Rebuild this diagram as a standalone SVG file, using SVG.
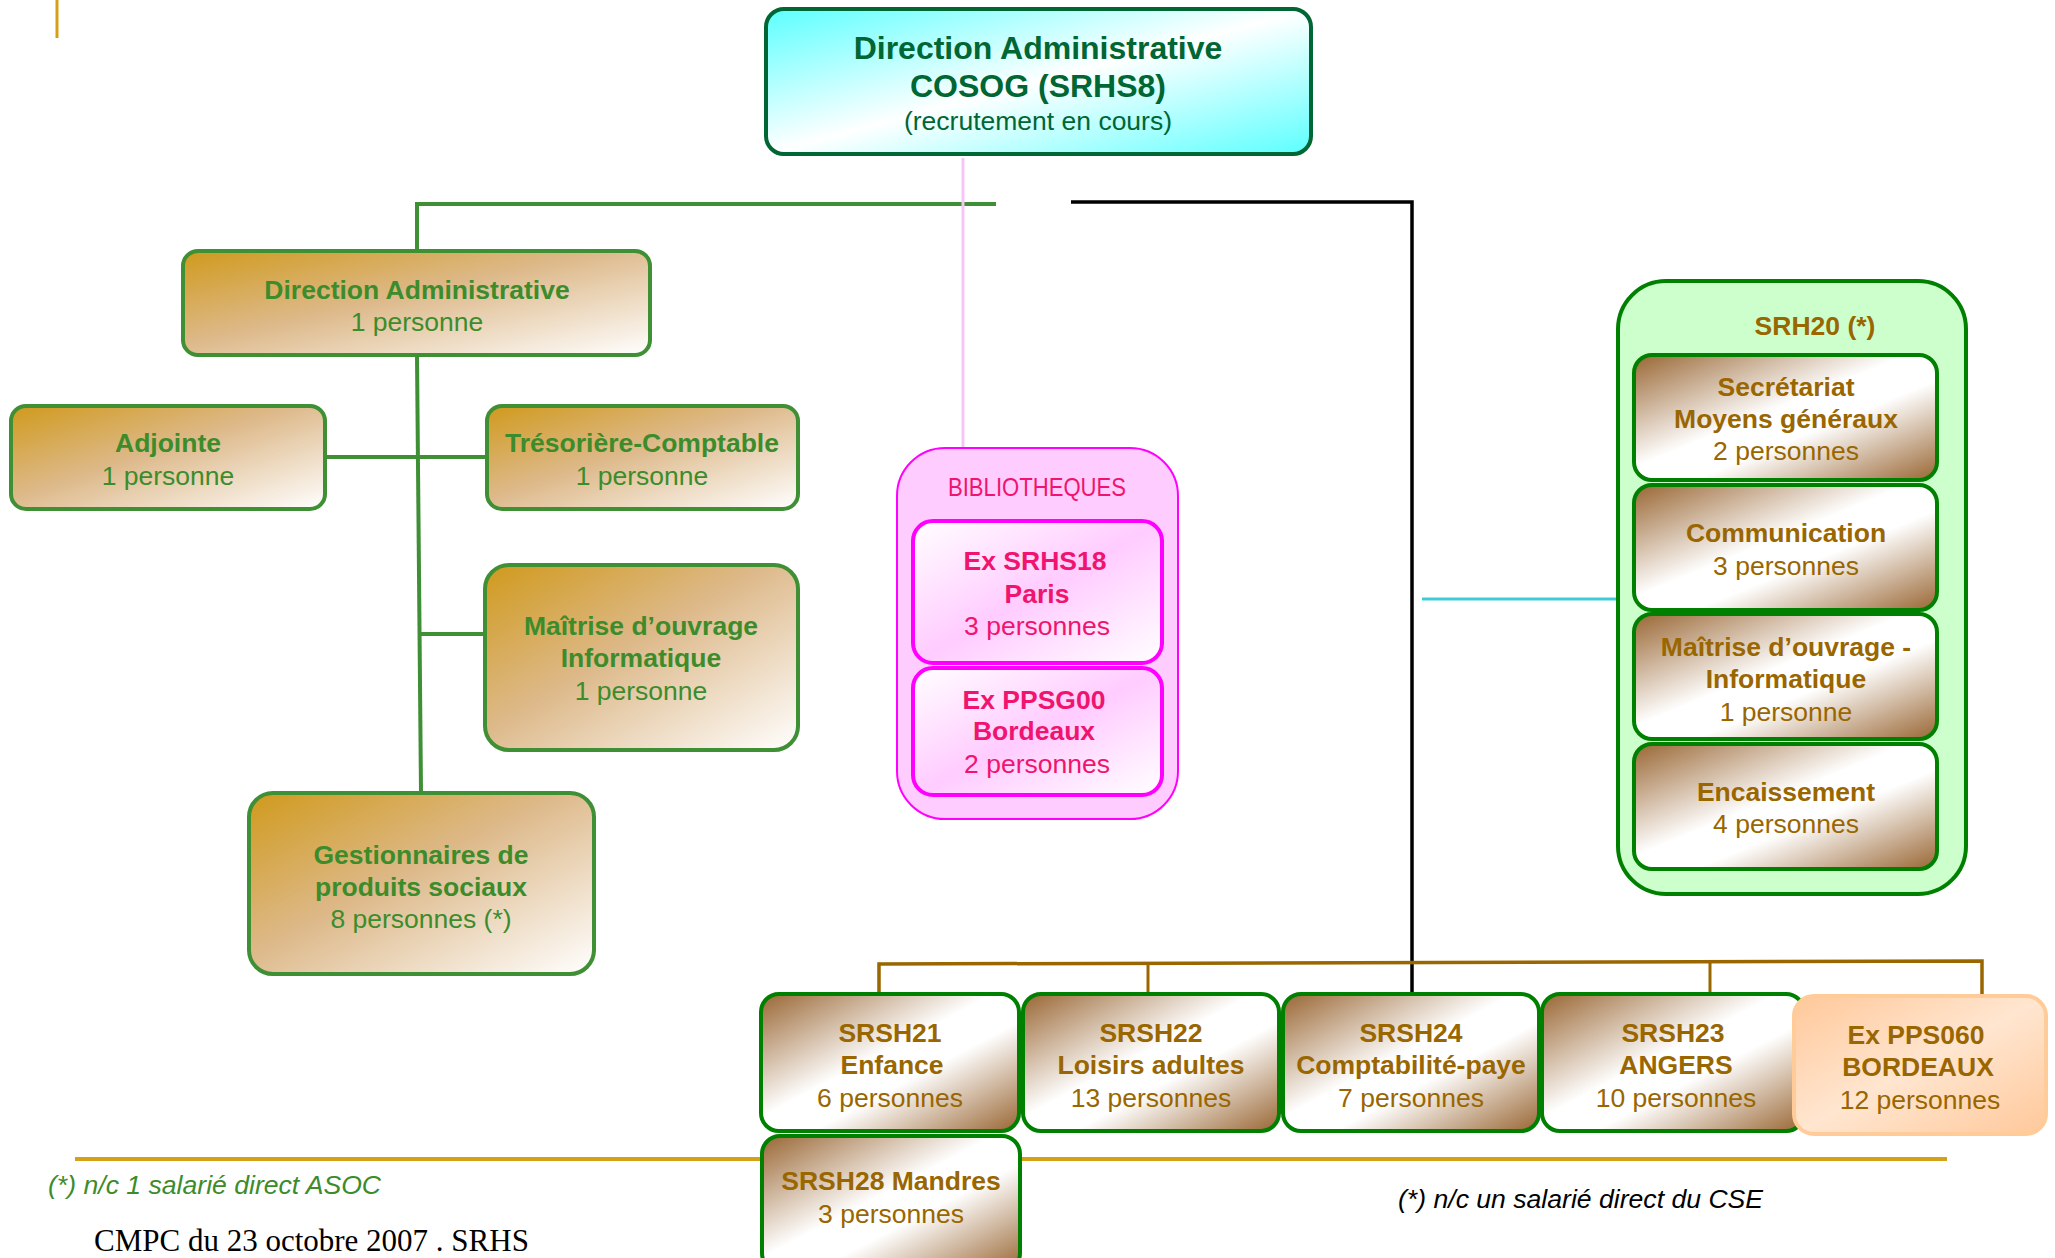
<svg xmlns="http://www.w3.org/2000/svg" width="2055" height="1258" viewBox="0 0 2055 1258">
<style>
text{font-family:"Liberation Sans",Arial,sans-serif;font-size:26.5px;text-anchor:middle}
.b{font-weight:bold}
.gr{fill:#3C8C2C}
.br{fill:#996600}
.pk{fill:#F0146E}
.dg{fill:#006633}
.gnode{fill:url(#gGold);stroke:#3F8F35;stroke-width:4}
.bnode{fill:url(#gBrown);stroke:#008000;stroke-width:4}
.pnode{fill:url(#gPink);stroke:#FF00FF;stroke-width:4}
.foot{text-anchor:start;font-style:italic;font-size:26.6px}
</style>
<defs>
<linearGradient id="gCyan" x1="0" y1="0" x2="1" y2="1">
<stop offset="0" stop-color="#5CFFFF"/><stop offset="0.5" stop-color="#FFFFFF"/><stop offset="1" stop-color="#5CFFFF"/>
</linearGradient>
<linearGradient id="gGold" x1="0" y1="0" x2="1" y2="1">
<stop offset="0" stop-color="#D09A1C"/><stop offset="0.45" stop-color="#DDB98A"/><stop offset="1" stop-color="#FFFFFF"/>
</linearGradient>
<linearGradient id="gBrown" x1="0" y1="0" x2="1" y2="1">
<stop offset="0" stop-color="#996633"/><stop offset="0.45" stop-color="#FFFFFF"/><stop offset="0.6" stop-color="#FFFFFF"/><stop offset="1" stop-color="#996633"/>
</linearGradient>
<linearGradient id="gPink" x1="0" y1="0" x2="1" y2="1">
<stop offset="0" stop-color="#FFFFFF"/><stop offset="0.5" stop-color="#FFCCFF"/><stop offset="1" stop-color="#FFFFFF"/>
</linearGradient>
<linearGradient id="gOrange" x1="0" y1="0" x2="1" y2="1">
<stop offset="0" stop-color="#FFC89A"/><stop offset="0.5" stop-color="#FFE6D0"/><stop offset="1" stop-color="#FFC89A"/>
</linearGradient>
</defs>

<g id="connectors" fill="none">
<line x1="57" y1="0" x2="57" y2="38" stroke="#D4A017" stroke-width="3"/>
<polyline points="417,250 417,204 996,204" stroke="#3F8F35" stroke-width="4"/>
<line x1="417" y1="356" x2="421" y2="792" stroke="#3F8F35" stroke-width="4"/>
<line x1="326" y1="457" x2="486" y2="457" stroke="#3F8F35" stroke-width="4"/>
<line x1="420" y1="634" x2="484" y2="634" stroke="#3F8F35" stroke-width="4"/>
<line x1="963" y1="158" x2="963" y2="448" stroke="#F5C6F5" stroke-width="3"/>
<polyline points="1071,202 1412,202 1412,993" stroke="#000000" stroke-width="3.5"/>
<line x1="1422" y1="599" x2="1617" y2="599" stroke="#40CCD4" stroke-width="3"/>
<polyline points="879,993 879,964 1982,961 1982,995" stroke="#996600" stroke-width="3.5"/>
<line x1="1148" y1="963" x2="1148" y2="993" stroke="#996600" stroke-width="3"/>
<line x1="1710" y1="962" x2="1710" y2="993" stroke="#996600" stroke-width="3"/>
<line x1="75" y1="1159" x2="1947" y2="1159" stroke="#D4A017" stroke-width="4"/>
</g>

<g id="n-top">
<rect x="766" y="9" width="545" height="145" rx="18" fill="url(#gCyan)" stroke="#006633" stroke-width="4"/>
<text x="1038" y="59" class="b dg" style="font-size:32px">Direction Administrative</text>
<text x="1038" y="97" class="b dg" style="font-size:32px">COSOG (SRHS8)</text>
<text x="1038" y="130" class="dg" style="font-size:26.5px">(recrutement en cours)</text>
</g>

<g id="n-da">
<rect x="183" y="251" width="467" height="104" rx="15" class="gnode"/>
<text x="417" y="299" class="b gr">Direction Administrative</text>
<text x="417" y="331" class="gr">1 personne</text>
</g>
<g id="n-adjointe">
<rect x="11" y="406" width="314" height="103" rx="15" class="gnode"/>
<text x="168" y="452" class="b gr">Adjointe</text>
<text x="168" y="485" class="gr">1 personne</text>
</g>
<g id="n-tresoriere">
<rect x="487" y="406" width="311" height="103" rx="15" class="gnode"/>
<text x="642" y="452" class="b gr">Trésorière-Comptable</text>
<text x="642" y="485" class="gr">1 personne</text>
</g>
<g id="n-moa">
<rect x="485" y="565" width="313" height="185" rx="24" class="gnode"/>
<text x="641" y="635" class="b gr">Maîtrise d’ouvrage</text>
<text x="641" y="667" class="b gr">Informatique</text>
<text x="641" y="700" class="gr">1 personne</text>
</g>
<g id="n-gestion">
<rect x="249" y="793" width="345" height="181" rx="24" class="gnode"/>
<text x="421" y="864" class="b gr">Gestionnaires de</text>
<text x="421" y="896" class="b gr">produits sociaux</text>
<text x="421" y="928" class="gr">8 personnes (*)</text>
</g>

<g id="n-biblio">
<rect x="897" y="448" width="281" height="371" rx="48" fill="#FFCCFF" stroke="#FF00FF" stroke-width="2"/>
<text x="1037" y="496" class="pk" textLength="178" lengthAdjust="spacingAndGlyphs">BIBLIOTHEQUES</text>
</g>
<g id="n-srhs18">
<rect x="913" y="521" width="249" height="142" rx="20" class="pnode"/>
<text x="1035" y="570" class="b pk">Ex SRHS18</text>
<text x="1037" y="603" class="b pk">Paris</text>
<text x="1037" y="635" class="pk">3 personnes</text>
</g>
<g id="n-ppsg00">
<rect x="913" y="668" width="249" height="127" rx="20" class="pnode"/>
<text x="1034" y="709" class="b pk">Ex PPSG00</text>
<text x="1034" y="740" class="b pk">Bordeaux</text>
<text x="1037" y="773" class="pk">2 personnes</text>
</g>

<g id="n-srh20">
<rect x="1618" y="281" width="348" height="613" rx="48" fill="#CCFFCC" stroke="#008000" stroke-width="4"/>
<text x="1815" y="335" class="b br">SRH20 (*)</text>
</g>
<g id="n-secretariat">
<rect x="1634" y="355" width="303" height="125" rx="18" class="bnode"/>
<text x="1786" y="396" class="b br">Secrétariat</text>
<text x="1786" y="428" class="b br">Moyens généraux</text>
<text x="1786" y="460" class="br">2 personnes</text>
</g>
<g id="n-communication">
<rect x="1634" y="485" width="303" height="125" rx="18" class="bnode"/>
<text x="1786" y="542" class="b br">Communication</text>
<text x="1786" y="575" class="br">3 personnes</text>
</g>
<g id="n-moa2">
<rect x="1634" y="614" width="303" height="125" rx="18" class="bnode"/>
<text x="1786" y="656" class="b br">Maîtrise d’ouvrage -</text>
<text x="1786" y="688" class="b br">Informatique</text>
<text x="1786" y="721" class="br">1 personne</text>
</g>
<g id="n-encaissement">
<rect x="1634" y="744" width="303" height="125" rx="18" class="bnode"/>
<text x="1786" y="801" class="b br">Encaissement</text>
<text x="1786" y="833" class="br">4 personnes</text>
</g>

<g id="n-srsh28">
<rect x="762" y="1136" width="258" height="135" rx="18" class="bnode"/>
<text x="891" y="1190" class="b br">SRSH28 Mandres</text>
<text x="891" y="1223" class="br">3 personnes</text>
</g>
<g id="n-srsh21">
<rect x="761" y="994" width="258" height="137" rx="18" class="bnode"/>
<text x="890" y="1042" class="b br">SRSH21</text>
<text x="892" y="1074" class="b br">Enfance</text>
<text x="890" y="1107" class="br">6 personnes</text>
</g>
<g id="n-srsh22">
<rect x="1023" y="994" width="256" height="137" rx="18" class="bnode"/>
<text x="1151" y="1042" class="b br">SRSH22</text>
<text x="1151" y="1074" class="b br">Loisirs adultes</text>
<text x="1151" y="1107" class="br">13 personnes</text>
</g>
<g id="n-srsh24">
<rect x="1283" y="994" width="256" height="137" rx="18" class="bnode"/>
<text x="1411" y="1042" class="b br">SRSH24</text>
<text x="1411" y="1074" class="b br">Comptabilité-paye</text>
<text x="1411" y="1107" class="br">7 personnes</text>
</g>
<g id="n-srsh23">
<rect x="1542" y="994" width="262" height="137" rx="18" class="bnode"/>
<text x="1673" y="1042" class="b br">SRSH23</text>
<text x="1676" y="1074" class="b br">ANGERS</text>
<text x="1676" y="1107" class="br">10 personnes</text>
</g>
<g id="n-pps060">
<rect x="1794" y="996" width="252" height="138" rx="20" fill="url(#gOrange)" stroke="#FFCC99" stroke-width="4"/>
<text x="1916" y="1044" class="b br">Ex PPS060</text>
<text x="1918" y="1076" class="b br">BORDEAUX</text>
<text x="1920" y="1109" class="br">12 personnes</text>
</g>

<g id="notes">
<text x="48" y="1194" class="foot gr">(*) n/c 1 salarié direct ASOC</text>
<text x="1398" y="1208" class="foot" fill="#000">(*) n/c un salarié direct du CSE</text>
<text x="94" y="1251" style="font-family:'Liberation Serif','Times New Roman',serif;font-size:31px;text-anchor:start" fill="#000">CMPC du 23 octobre 2007 . SRHS</text>
</g>
</svg>
